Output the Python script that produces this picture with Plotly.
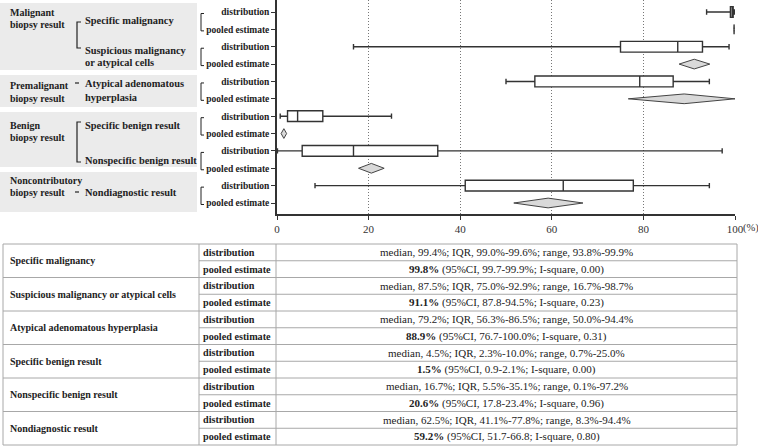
import plotly.graph_objects as go

# ---------------- data ----------------
categories = ["Specific malignancy", "Suspicious malignancy or atypical cells",
              "Atypical adenomatous hyperplasia", "Specific benign result",
              "Nonspecific benign result", "Nondiagnostic result"]
median = [99.4, 87.5, 79.2, 4.5, 16.7, 62.5]
q1 = [99.0, 75.0, 56.3, 2.3, 5.5, 41.1]
q3 = [99.6, 92.9, 86.5, 10.0, 35.1, 77.8]
range_min = [93.8, 16.7, 50.0, 0.7, 0.1, 8.3]
range_max = [99.9, 98.7, 94.4, 25.0, 97.2, 94.4]
pooled = [99.8, 91.1, 88.9, 1.5, 20.6, 59.2]
ci_low = [99.7, 87.8, 76.7, 0.9, 17.8, 51.7]
ci_high = [99.9, 94.5, 100.0, 2.1, 23.4, 66.8]
ci_unit = ["%", "%", "%", "%", "%", ""]
i_square = [0.00, 0.23, 0.31, 0.00, 0.96, 0.80]
row_labels = ["distribution", "pooled estimate"]
x_ticks = [0, 20, 40, 60, 80, 100]
x_tick_labels = ["0", "20", "40", "60", "80", "100"]
group_labels = [["Malignant", "biopsy result"], ["Premalignant", "biopsy result"],
                ["Benign", "biopsy result"], ["Noncontributory", "biopsy result"]]
sub_labels = [["Specific malignancy"], ["Suspicious malignancy", "or atypical cells"],
              ["Atypical adenomatous", "hyperplasia"], ["Specific benign result"],
              ["Nonspecific benign result"], ["Nondiagnostic result"]]

# ---------------- geometry ----------------
W, H = 758, 446
L, R, T, B = 277, 735, 0, 214
FONT = "Liberation Serif"


def px(x):
    return (x - L) / (R - L)


def py(y):
    return (B - y) / (B - T)


fig = go.Figure()

# distribution boxes
for i in range(len(categories)):
    fig.add_trace(go.Box(
        y=[2 * i], q1=[q1[i]], median=[median[i]], q3=[q3[i]],
        lowerfence=[range_min[i]], upperfence=[range_max[i]],
        orientation="h", width=0.62, whiskerwidth=0.5,
        fillcolor="white", line=dict(color="#333333", width=1.4),
        boxpoints=False, hoverinfo="skip"))

# pooled estimate diamonds
hh = 0.28
for i in range(len(categories)):
    yc = 2 * i + 1
    fig.add_trace(go.Scatter(
        x=[ci_low[i], pooled[i], ci_high[i], pooled[i], ci_low[i]],
        y=[yc, yc - hh, yc, yc + hh, yc],
        mode="lines", fill="toself", fillcolor="#d9d9d9",
        line=dict(color="#444444", width=1), hoverinfo="skip"))

shapes = []
annotations = []

# left grey panels
panels = [(3, 70), (75, 107), (112, 167), (172, 212)]
for (y0, y1) in panels:
    shapes.append(dict(type="rect", xref="paper", yref="paper",
                       x0=px(0), x1=px(197), y0=py(y0), y1=py(y1),
                       fillcolor="#ebebeb", line=dict(width=0), layer="below"))


def text(x, y, s, size=11, bold=True, anchor="left"):
    annotations.append(dict(xref="paper", yref="paper", x=px(x), y=py(y),
                            text=("<b>%s</b>" % s) if bold else s, showarrow=False,
                            xanchor=anchor, yanchor="middle",
                            font=dict(family=FONT, size=size, color="#222222")))


# group labels
group_y = [(12, 25), (85, 98), (125, 137), (180, 192)]
for g, (ya, yb) in zip(group_labels, group_y):
    text(8, ya, g[0], size=10)
    text(8, yb, g[1], size=10)

# sub labels
sub_y = [[21], [50, 62], [83, 97], [125], [160], [192]]
for lab, ys in zip(sub_labels, sub_y):
    for s, y in zip(lab, ys):
        text(83, y, s, size=10.4)

line_style = dict(color="#222222", width=1.2)
# left brackets
for (ya, yb) in [(22, 48), (122, 162)]:
    shapes.append(dict(type="path", xref="paper", yref="paper",
                       path=f"M {px(81)},{py(ya)} L {px(77)},{py(ya)} L {px(77)},{py(yb)} L {px(81)},{py(yb)}",
                       line=line_style))
# dashes
for y in [83, 192]:
    shapes.append(dict(type="line", xref="paper", yref="paper",
                       x0=px(75), x1=px(79), y0=py(y), y1=py(y), line=line_style))

# right brackets per pair
row_h = (203 - 12) / 11
for k in range(6):
    ya = 12 + 2 * k * row_h + 1.5
    yb = ya + row_h
    shapes.append(dict(type="path", xref="paper", yref="paper",
                       path=f"M {px(204)},{py(ya)} L {px(201)},{py(ya)} L {px(201)},{py(yb)} L {px(204)},{py(yb)}",
                       line=dict(color="#222222", width=1)))

# (%) suffix
annotations.append(dict(xref="paper", yref="paper", x=px(741), y=py(228), text="(%)",
                        showarrow=False, xanchor="left", yanchor="middle",
                        font=dict(family=FONT, size=10.5, color="#333333")))

# ---------------- table ----------------
tt, tb = 244, 445
sub_h = (tb - tt) / 12
tl, tc1, tc2, tr = 3, 199, 276, 737
grid = dict(color="#a8a8a8", width=1)
for i in range(7):
    y = tt + 2 * i * sub_h
    shapes.append(dict(type="line", xref="paper", yref="paper",
                       x0=px(tl), x1=px(tr), y0=py(y), y1=py(y), line=grid))
for i in range(6):
    y = tt + (2 * i + 1) * sub_h
    shapes.append(dict(type="line", xref="paper", yref="paper",
                       x0=px(tc1), x1=px(tr), y0=py(y), y1=py(y), line=grid))
for x in [tl, tc1, tc2, tr]:
    shapes.append(dict(type="line", xref="paper", yref="paper",
                       x0=px(x), x1=px(x), y0=py(tt), y1=py(tb), line=grid))

xc = (tc2 + tr) / 2
for i, cat in enumerate(categories):
    y_top = tt + 2 * i * sub_h
    text(8, y_top + sub_h, cat, size=10)
    text(tc1 + 2, y_top + sub_h / 2, row_labels[0], size=10.2)
    text(tc1 + 2, y_top + 1.5 * sub_h, row_labels[1], size=10.2)
    dist = (f"median, {median[i]:.1f}%; IQR, {q1[i]:.1f}%-{q3[i]:.1f}%; "
            f"range, {range_min[i]:.1f}%-{range_max[i]:.1f}%")
    pool = (f"<b>{pooled[i]:.1f}%</b> (95%CI, {ci_low[i]:.1f}-{ci_high[i]:.1f}{ci_unit[i]}; "
            f"I-square, {i_square[i]:.2f})")
    text(xc, y_top + sub_h / 2, dist, size=11, bold=False, anchor="center")
    text(xc, y_top + 1.5 * sub_h, pool, size=11, bold=False, anchor="center")

fig.update_layout(
    width=W, height=H,
    margin=dict(l=L, r=W - R, t=T, b=H - B, pad=0),
    paper_bgcolor="white", plot_bgcolor="white",
    showlegend=False, boxmode="overlay",
    shapes=shapes, annotations=annotations,
    xaxis=dict(range=[0, 100], tickvals=x_ticks, ticktext=x_tick_labels,
               showgrid=True, gridcolor="#777777", griddash="1px,2px", gridwidth=1,
               zeroline=False, showline=True, linecolor="#333333", linewidth=1.5,
               ticks="outside", ticklen=4, tickcolor="#333333",
               tickfont=dict(family=FONT, size=11, color="#333333")),
    yaxis=dict(range=[(B - 12) / row_h, -12 / row_h],
               tickvals=list(range(12)),
               ticktext=["<b>%s</b>" % row_labels[r % 2] for r in range(12)],
               showgrid=False, zeroline=False, showline=True,
               linecolor="#333333", linewidth=1.5,
               ticks="outside", ticklen=4, tickcolor="#333333",
               tickfont=dict(family=FONT, size=9.5, color="#222222")),
)

fig.write_html("out.html", config={"displayModeBar": False},
               post_script="document.body.style.margin='0';document.body.style.overflow='hidden';")
